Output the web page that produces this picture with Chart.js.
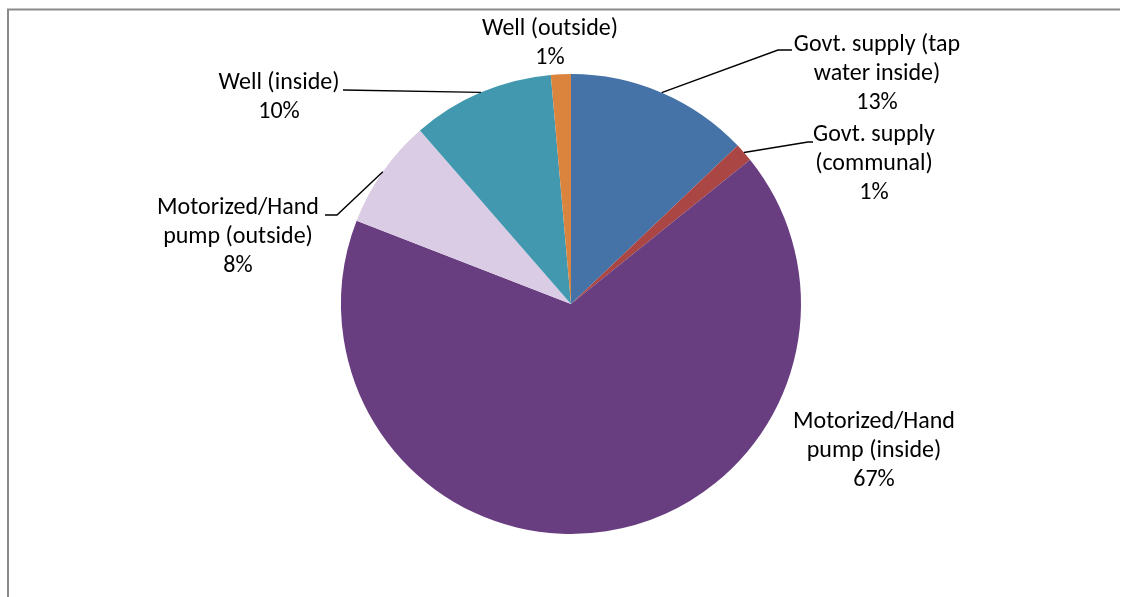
<!DOCTYPE html>
<html>
<head>
<meta charset="utf-8">
<script src="https://cdn.jsdelivr.net/npm/chart.js@4/dist/chart.umd.min.js"></script>
<style>
  html, body { margin: 0; padding: 0; background: #fff; }
  #wrap { width: 1122px; height: 597px; position: relative; }
</style>
</head>
<body>
<div id="wrap"><canvas id="c" width="1122" height="597"></canvas></div>
<script>
// Source of drinking water, share of households (%)
const categories = [
  'Govt. supply (tap water inside)',
  'Govt. supply (communal)',
  'Motorized/Hand pump (inside)',
  'Motorized/Hand pump (outside)',
  'Well (inside)',
  'Well (outside)'
];
const shares = [12.9, 1.3, 66.7, 7.7, 10.0, 1.4];
const sliceColors = ['#4572A7', '#AA4643', '#693E81', '#DBCCE5', '#4198AF', '#DB843D'];

// Label text lines per slice (percent line appended from the data)
const labelLines = [
  ['Govt. supply (tap', 'water inside)'],
  ['Govt. supply', '(communal)'],
  ['Motorized/Hand', 'pump (inside)'],
  ['Motorized/Hand', 'pump (outside)'],
  ['Well (inside)'],
  ['Well (outside)']
];

// Label placement: text block centre (x, first-line y), optional leader elbow
const labelLayout = [
  { x: 877, y: 45,  elbow: [778, 50], end: [792, 50] },
  { x: 874, y: 135, elbow: [808, 142], end: [813, 142] },
  { x: 874, y: 422 },
  { x: 238, y: 208, elbow: [337, 215], end: [325, 215] },
  { x: 279, y: 83,  elbow: null, end: [343, 90] },
  { x: 550, y: 29 }
];

const FONT = '24px Carlito, Calibri, Lato, "Open Sans", sans-serif';
const LINE_H = 28.8;

const total = shares.reduce((a, b) => a + b, 0);

const framePlugin = {
  id: 'frame',
  beforeDraw(chart) {
    const ctx = chart.ctx;
    ctx.save();
    ctx.fillStyle = '#fff';
    ctx.fillRect(0, 0, chart.width, chart.height);
    ctx.strokeStyle = '#8a8a8a';
    ctx.lineWidth = 2;
    ctx.beginPath();
    ctx.moveTo(8, chart.height);
    ctx.lineTo(8, 9.5);
    ctx.lineTo(1120, 9.5);
    ctx.stroke();
    ctx.restore();
  }
};

const labelPlugin = {
  id: 'sliceLabels',
  afterDatasetsDraw(chart) {
    const ctx = chart.ctx;
    const meta = chart.getDatasetMeta(0);
    ctx.save();
    ctx.font = FONT;
    ctx.fillStyle = '#000';
    ctx.textAlign = 'center';
    ctx.textBaseline = 'middle';
    ctx.strokeStyle = '#000';
    ctx.lineWidth = 1.4;
    meta.data.forEach((arc, i) => {
      const lay = labelLayout[i];
      const pct = Math.round(shares[i] / total * 100) + '%';
      const lines = labelLines[i].concat([pct]);
      lines.forEach((t, k) => ctx.fillText(t, lay.x, lay.y + k * LINE_H));
      if (lay.end) {
        const mid = (arc.startAngle + arc.endAngle) / 2;
        const sx = arc.x + Math.cos(mid) * arc.outerRadius;
        const sy = arc.y + Math.sin(mid) * arc.outerRadius;
        ctx.beginPath();
        ctx.moveTo(sx, sy);
        if (lay.elbow) ctx.lineTo(lay.elbow[0], lay.elbow[1]);
        ctx.lineTo(lay.end[0], lay.end[1]);
        ctx.stroke();
      }
    });
    ctx.restore();
  }
};

new Chart(document.getElementById('c'), {
  type: 'pie',
  data: {
    labels: categories,
    datasets: [{
      data: shares,
      backgroundColor: sliceColors,
      borderWidth: 0
    }]
  },
  options: {
    responsive: false,
    animation: false,
    layout: { padding: { left: 341, right: 321, top: 74, bottom: 63 } },
    plugins: {
      legend: { display: false },
      tooltip: { enabled: false }
    }
  },
  plugins: [framePlugin, labelPlugin]
});
</script>
</body>
</html>
